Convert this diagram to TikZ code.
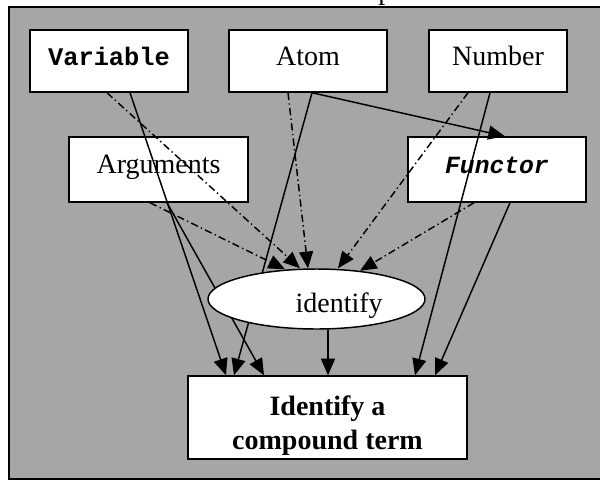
\documentclass[tikz,border=0pt]{standalone}
\usepackage{fontspec}
\setmainfont{Liberation Serif}
\newfontfamily\boxmono{Liberation Mono}
\usetikzlibrary{arrows.meta,shapes.geometric}
\pgfdeclarelayer{front}
\pgfsetlayers{main,front}
\definecolor{panelgray}{RGB}{166,166,166}
% one screen pixel of the layout grid
\def\px{*0.75pt}

\begin{document}
\begin{tikzpicture}[x=0.75pt,y=-0.75pt,
  box/.style={draw=black,line width=1.1pt,fill=white,rectangle,inner sep=0pt,
    text height=15pt,text depth=9pt,font=\fontsize{21}{25}\selectfont},
  monobox/.style={box,font=\boxmono\bfseries\fontsize{19}{23}\selectfont},
  solidarrow/.style={line width=1.1pt,-{Triangle[length=12.5pt,width=10.5pt]}},
  dasharrow/.style={solidarrow,dash pattern=on 5.5pt off 2.5pt on 1pt off 2.5pt}]

\useasboundingbox (0,0) rectangle (600,483);
\fill[white] (0,0) rectangle (600,483);
\node[anchor=base west,inner sep=0pt,font=\fontsize{21}{25}\selectfont] (capp) at (378,-1) {p};
\draw[line width=1.5pt,fill=panelgray] (9,7) rectangle (610,479);

% source boxes
\node[monobox,minimum width=118.5pt,minimum height=46.5pt] (var) at (109,61) {Variable};
\node[box,minimum width=118.5pt,minimum height=46.5pt] (atom) at (308,61) {Atom};
\node[box,minimum width=103.5pt,minimum height=46.5pt] (num) at (498,61) {Number};
\node[box,minimum width=134.25pt,minimum height=48.75pt] (args) at (158.5,169.5) {Arguments};
\node[monobox,font=\boxmono\bfseries\itshape\fontsize{18.5}{22}\selectfont,
  minimum width=133.5pt,minimum height=48.75pt] (func) at (497,169.5) {Functor};

% target box
\node[box,text height=,text depth=,align=center,font=\bfseries\fontsize{21}{25.5}\selectfont,
  minimum width=209.25pt,minimum height=62.25pt] (comp) at (327.5,417.5)
  {\rule{0pt}{27pt}Identify a\\compound term};

% the ellipse hides the lines that pass behind it
\begin{pgfonlayer}{front}
\node[draw=black,ellipse,fill=white,line width=1.1pt,inner sep=0pt,
  minimum width=162.75pt,minimum height=45pt,text height=20pt,text depth=0pt,
  font=\fontsize{21}{25}\selectfont] (ident) at (316.5,299) {\hspace*{34pt}identify};
\end{pgfonlayer}

% solid links into the compound term
\draw[solidarrow] ([xshift=21\px]var.south) -- ([xshift=-101.5\px]comp.north);
\draw[solidarrow] ([xshift=4\px]atom.south) -- ([xshift=-93.5\px]comp.north);
\draw[solidarrow] ([xshift=8.5\px]args.south) -- ([xshift=-63.5\px]comp.north);
\draw[solidarrow] ([xshift=-8\px]num.south) -- ([xshift=87.5\px]comp.north);
\draw[solidarrow] ([xshift=13\px]func.south) -- ([xshift=107.5\px]comp.north);
\draw[solidarrow] ([xshift=4\px]atom.south) -- ([xshift=8\px]func.north);
\draw[solidarrow] ([xshift=11.5\px]ident.south) -- ([xshift=0.5\px]comp.north);

% dash-dot links into identify
\draw[dasharrow] ([xshift=-2\px]var.south) -- ([xshift=-16.5\px]ident.north);
\draw[dasharrow] ([xshift=-20\px]atom.south) -- ([xshift=-8.5\px]ident.north);
\draw[dasharrow] ([xshift=-8.5\px]args.south) -- ([xshift=-31.5\px,yshift=-1\px]ident.north);
\draw[dasharrow] ([xshift=-30\px]num.south) -- ([xshift=21.5\px]ident.north);
\draw[dasharrow] ([xshift=-23\px]func.south) -- ([xshift=43.5\px,yshift=-2.5\px]ident.north);
\end{tikzpicture}
\end{document}
